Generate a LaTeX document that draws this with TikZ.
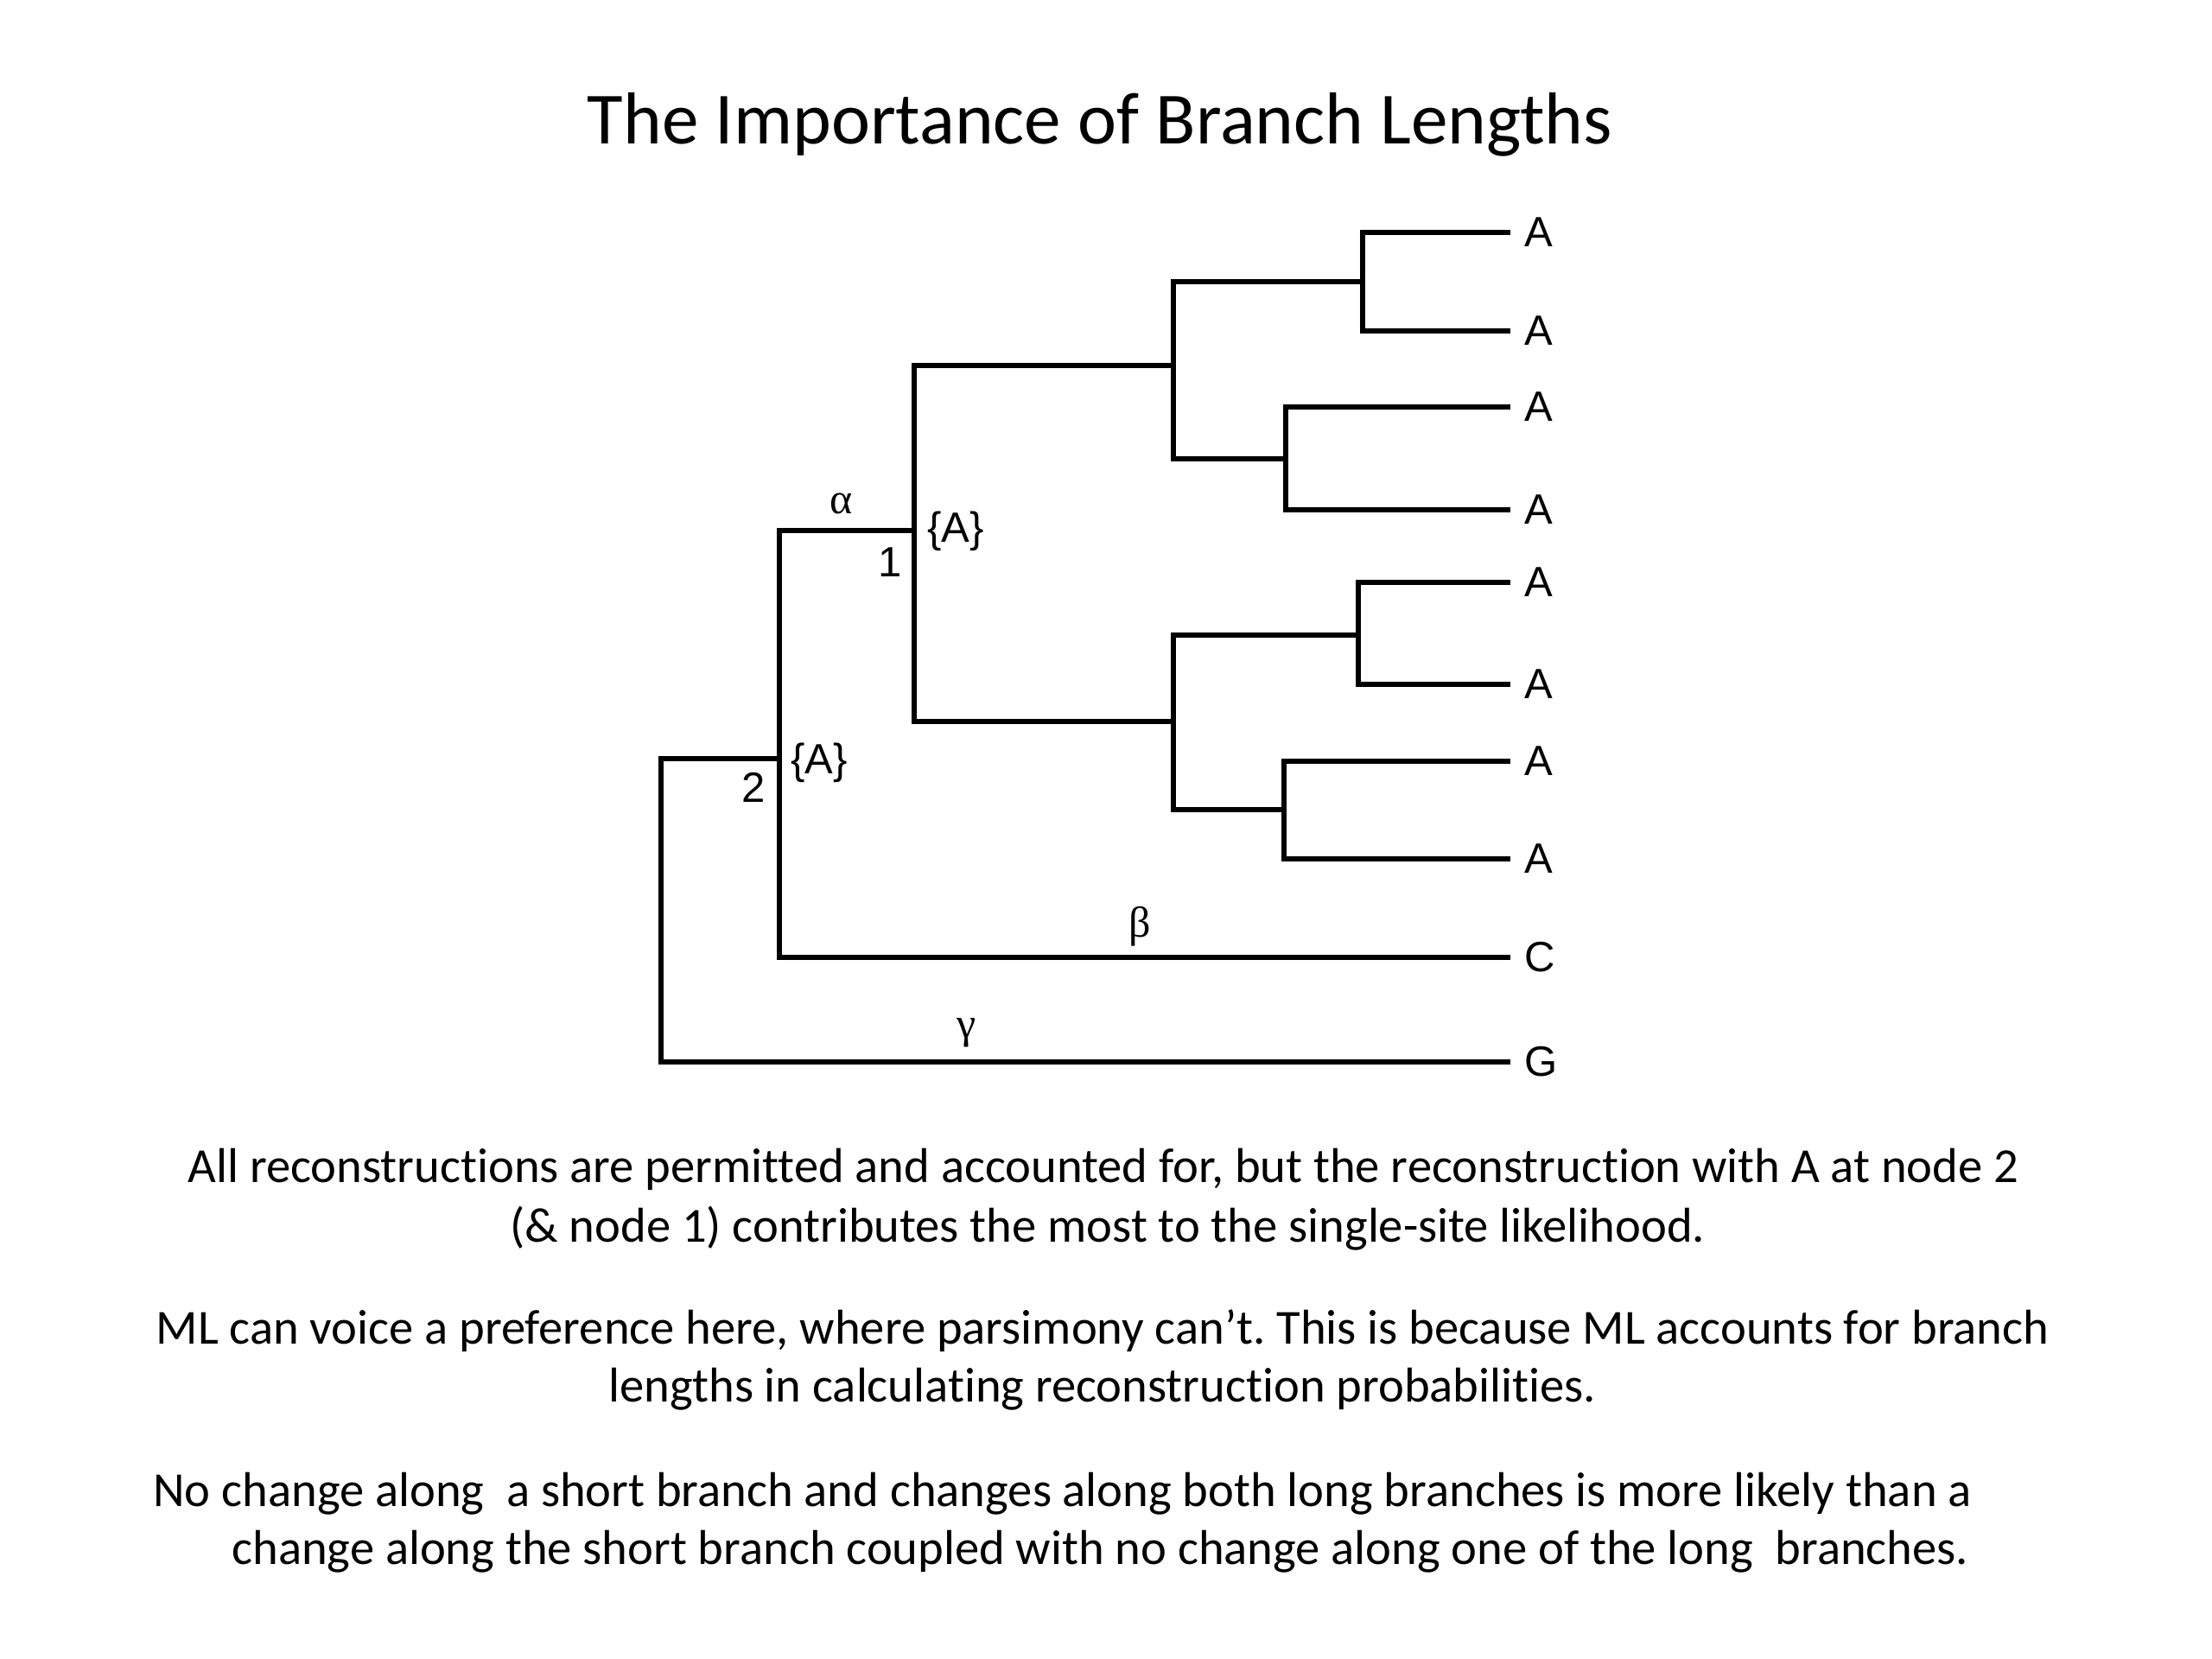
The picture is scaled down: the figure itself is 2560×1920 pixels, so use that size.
\documentclass[tikz,border=0pt]{standalone}
\usepackage{fontspec}
\setmainfont{Carlito}[Ligatures=NoCommon]
\newfontfamily\labfont{Liberation Sans}
\newfontfamily\grkfont{Liberation Serif}
\frenchspacing
\begin{document}
\begin{tikzpicture}[x=0.5pt,y=-0.5pt,
  branch/.style={line width=3.2pt, line join=miter},
  leaf/.style={anchor=west, inner xsep=8pt, inner ysep=0pt, font=\labfont\fontsize{24.5}{28}\selectfont},
  statelab/.style={inner sep=0pt, font=\labfont\fontsize{24.5}{28}\selectfont},
  greek/.style={inner sep=0pt, font=\grkfont\fontsize{25}{28}\selectfont},
  titletext/.style={anchor=base, inner sep=0pt, font=\fontsize{42.6}{50}\selectfont},
  bodytext/.style={anchor=base, inner sep=0pt, font=\fontsize{28.3}{33}\selectfont},
  bodyleft/.style={anchor=base west, inner sep=0pt, font=\fontsize{28.3}{33}\selectfont}]
\fill[white] (0,0) rectangle (2560,1920);
\useasboundingbox (0,0) rectangle (2560,1920);

% title
\node[titletext] (title) at (1273,167) {The Importance of Branch Lengths};

% leaves
\node[leaf] (t1) at (1748,269) {A};
\node[leaf] (t2) at (1748,383) {A};
\node[leaf] (t3) at (1748,471) {A};
\node[leaf] (t4) at (1748,590) {A};
\node[leaf] (t5) at (1748,674) {A};
\node[leaf] (t6) at (1748,792) {A};
\node[leaf] (t7) at (1748,881) {A};
\node[leaf] (t8) at (1748,994) {A};
\node[leaf] (tC) at (1748,1108) {C};
\node[leaf] (tG) at (1748,1229) {G};

% internal nodes
\coordinate (u1) at (1577,326);
\coordinate (u2) at (1488,531);
\coordinate (l1) at (1572,735);
\coordinate (l2) at (1486,937);
\coordinate (u) at (1358,423);
\coordinate (l) at (1358,835);
\coordinate (n1) at (1058,614);
\coordinate (n2) at (902,878);
\coordinate (r) at (765,1050);

% branches
\draw[branch] (t1.west) -| (u1) |- (t2.west);
\draw[branch] (t3.west) -| (u2) |- (t4.west);
\draw[branch] (t5.west) -| (l1) |- (t6.west);
\draw[branch] (t7.west) -| (l2) |- (t8.west);
\draw[branch] (u1) -| (u) |- (u2);
\draw[branch] (l1) -| (l) |- (l2);
\draw[branch] (u) -| (n1) |- (l);
\draw[branch] (n1) -| (n2) |- (tC.west);
\draw[branch] (n2) -| (r) |- (tG.west);

% labels on tree
\node[greek] (alpha) at (974,583) {α};
\node[greek] (beta) at (1319,1072) {β};
\node[greek] (gamma) at (1119,1195) {γ};
\node[statelab] (s1) at (1106,615) {\{A\}};
\node[statelab] (k1) at (1030,651) {1};
\node[statelab] (s2) at (948,883) {\{A\}};
\node[statelab] (k2) at (872,911) {2};

% body text
\node[bodytext] (p1a) at (1277,1368) {All reconstructions are permitted and accounted for, but the reconstruction with A at node 2};
\node[bodytext] (p1b) at (1282,1437) {(\& node 1) contributes the most to the single-site likelihood.};
\node[bodytext] (p2a) at (1276,1555) {ML can voice a preference here, where parsimony can’t. This is because ML accounts for branch};
\node[bodytext] (p2b) at (1276,1622) {lengths in calculating reconstruction probabilities.};
\node[bodyleft] (p3a) at (177,1743) {No change along \ a short branch and changes along both long branches is more likely than a};
\node[bodyleft] (p3b) at (268,1810) {change along the short branch coupled with no change along one of the long \ branches.};
\end{tikzpicture}
\end{document}
